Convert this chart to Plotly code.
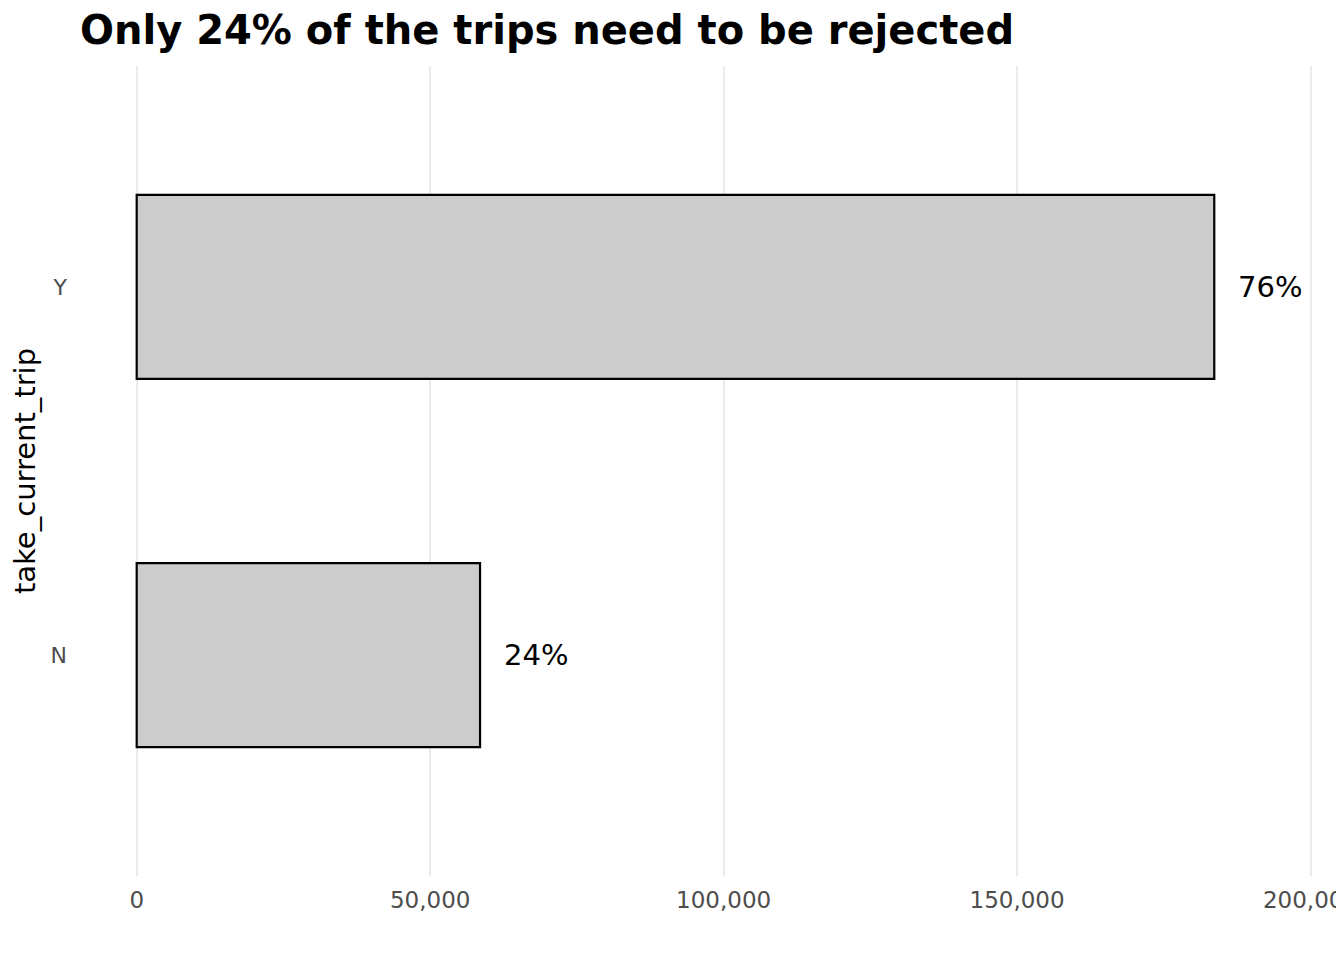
import plotly.graph_objects as go

# trip decision counts
categories = ["N", "Y"]
counts = [58500, 183600]
labels = ["24%", "76%"]

tick_vals = [0, 50000, 100000, 150000, 200000]
tick_text = ["0", "50,000", "100,000", "150,000", "200,000"]

font_family = "DejaVu Sans"

fig = go.Figure()
fig.add_trace(go.Bar(
    x=counts,
    y=categories,
    orientation="h",
    width=0.5,
    marker=dict(color="#CCCCCC", line=dict(color="black", width=2.2)),
    hoverinfo="x+y",
))

# percentage labels to the right of each bar
for cat, val, lab in zip(categories, counts, labels):
    fig.add_annotation(
        x=val, y=cat, text=lab, showarrow=False,
        xanchor="left", xshift=22,
        font=dict(family=font_family, size=29, color="black"),
    )

fig.update_layout(
    width=1344, height=960,
    plot_bgcolor="white", paper_bgcolor="white",
    margin=dict(l=70, r=18, t=58, b=92),
    showlegend=False,
    title=dict(
        text="<b>Only 24% of the trips need to be rejected</b>",
        x=72 / 1344, xanchor="left", xref="container",
        y=1 - 22 / 960, yanchor="middle", yref="container",
        font=dict(family=font_family, size=40, color="black"),
    ),
    font=dict(family=font_family),
)
fig.update_xaxes(
    range=[-10000, 204000],
    tickvals=tick_vals, ticktext=tick_text,
    showgrid=True, gridcolor="#EBEBEB", gridwidth=2,
    zeroline=False, showline=False, ticks="",
    tickfont=dict(family=font_family, size=23, color="#4D4D4D"),
    ticklabelstandoff=8,
    ticklabeloverflow="allow",
    automargin=False,
)
fig.update_yaxes(
    range=[-0.6, 1.6],
    showgrid=False, zeroline=False, showline=False, ticks="",
    tickfont=dict(family=font_family, size=22, color="#4D4D4D"),
    ticklabelstandoff=10,
    title=dict(text="take_current_trip", standoff=6,
               font=dict(family=font_family, size=29, color="black")),
    automargin=False,
)

fig.write_html("out.html")
